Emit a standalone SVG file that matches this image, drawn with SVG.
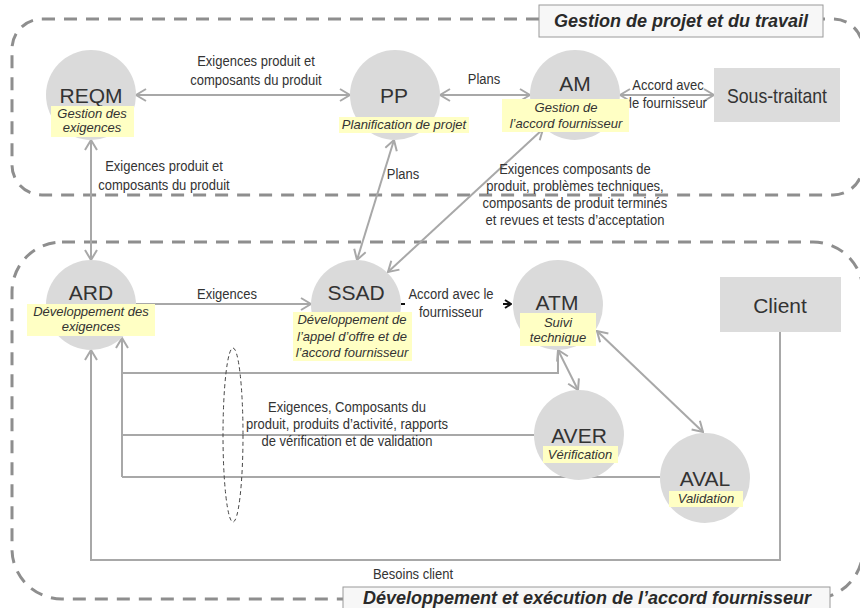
<svg xmlns="http://www.w3.org/2000/svg" width="860" height="608" viewBox="0 0 860 608">
<style>
.region{fill:none;stroke:#8e8e8e;stroke-width:3;stroke-dasharray:13 9}
.hdrbox{fill:#f7f7f7;stroke:#9a9a9a;stroke-width:1}
.hdr{font-family:"Liberation Sans",Arial,sans-serif;font-size:18px;font-weight:bold;font-style:italic;fill:#2a2a2a;text-anchor:middle}
.con{fill:none;stroke:#a8a8a8;stroke-width:2}
.lbl{font-family:"Liberation Sans",Arial,sans-serif;font-size:15px;fill:#333;text-anchor:middle}
.circ{fill:#dadada}
.box{fill:#dcdcdc}
.ttl{font-family:"Liberation Sans",Arial,sans-serif;font-size:21px;fill:#333;text-anchor:middle}
.note{fill:#ffffc4}
.sub{font-family:"Liberation Sans",Arial,sans-serif;font-size:13px;font-style:italic;fill:#333;text-anchor:middle}
</style>
<defs>
<marker id="ah" viewBox="0 0 12 14" refX="11" refY="7" markerWidth="12" markerHeight="14" markerUnits="userSpaceOnUse" orient="auto-start-reverse">
<path d="M1,1 L11,7 L1,13" fill="none" stroke="#a8a8a8" stroke-width="2"/>
</marker>
<marker id="ahb" viewBox="0 0 8 10" refX="7" refY="5" markerWidth="8" markerHeight="10" markerUnits="userSpaceOnUse" orient="auto">
<path d="M1,1 L7,5 L1,9" fill="none" stroke="#111" stroke-width="2"/>
</marker>
</defs>

<g id="regions">
<rect class="region" x="12" y="19" width="851" height="176" rx="30"/>
<rect class="region" x="12" y="242" width="851" height="357" rx="50"/>
</g>

<g id="connectors">
<path class="con" d="M136,95 H350" marker-start="url(#ah)" marker-end="url(#ah)"/>
<path class="con" d="M440,95 H530" marker-start="url(#ah)" marker-end="url(#ah)"/>
<path class="con" d="M620,95 H714" marker-start="url(#ah)" marker-end="url(#ah)"/>
<path class="con" d="M91,140 V260" marker-start="url(#ah)" marker-end="url(#ah)"/>
<path class="con" d="M394,140 L357,260" marker-start="url(#ah)" marker-end="url(#ah)"/>
<path class="con" d="M543,129 L388,272" marker-start="url(#ah)" marker-end="url(#ah)"/>
<path class="con" d="M136,304 H311" marker-end="url(#ah)"/>
<path d="M401,304 H511" fill="none" stroke="#111" stroke-width="2" stroke-dasharray="4 98 8 100" marker-end="url(#ahb)"/>
<path class="con" d="M558,350 L578,390" marker-start="url(#ah)" marker-end="url(#ah)"/>
<path class="con" d="M597,331 L703,432" marker-start="url(#ah)" marker-end="url(#ah)"/>
<path class="con" d="M558,350 V373 H122"/>
<path class="con" d="M534,435 H122"/>
<path class="con" d="M660,477 H122"/>
<path class="con" d="M122,477 V338" marker-end="url(#ah)"/>
<path class="con" d="M780,332 V560 H91 V350" marker-end="url(#ah)"/>
<ellipse cx="233" cy="435" rx="10" ry="87" fill="none" stroke="#444" stroke-width="1" stroke-dasharray="4 3"/>

<g transform="scale(0.8667 1)">
<text class="lbl" x="295.4" y="66">Exigences produit et</text>
<text class="lbl" x="295.4" y="85">composants du produit</text>
<text class="lbl" x="558.4" y="84">Plans</text>
<text class="lbl" x="770.7" y="90">Accord avec</text>
<text class="lbl" x="770.7" y="108">le fournisseur</text>
<text class="lbl" x="189.2" y="171">Exigences produit et</text>
<text class="lbl" x="189.2" y="190">composants du produit</text>
<text class="lbl" x="465" y="179">Plans</text>
<text class="lbl" x="663.4" y="174">Exigences composants de</text>
<text class="lbl" x="663.4" y="191">produit, problèmes techniques,</text>
<text class="lbl" x="663.4" y="208">composants de produit terminés</text>
<text class="lbl" x="663.4" y="225">et revues et tests d’acceptation</text>
<text class="lbl" x="261.9" y="299">Exigences</text>
<text class="lbl" x="520.4" y="299">Accord avec le</text>
<text class="lbl" x="520.4" y="317">fournisseur</text>
<text class="lbl" x="400.4" y="412">Exigences, Composants du</text>
<text class="lbl" x="400.4" y="429">produit, produits d’activité, rapports</text>
<text class="lbl" x="400.4" y="446">de vérification et de validation</text>
<text class="lbl" x="476.5" y="579">Besoins client</text>
</g>
</g>

<g id="REQM">
<circle class="circ" cx="91" cy="95" r="45"/>
<text class="ttl" x="91" y="103">REQM</text>
<rect class="note" x="51" y="106" width="83" height="31"/>
<text class="sub" x="92" y="118">Gestion des</text>
<text class="sub" x="92" y="132">exigences</text>
</g>

<g id="PP">
<circle class="circ" cx="395" cy="95" r="45"/>
<text class="ttl" x="394" y="103">PP</text>
<rect class="note" x="339" y="117" width="130" height="16"/>
<text class="sub" x="404" y="129">Planification de projet</text>
</g>

<g id="AM">
<circle class="circ" cx="575" cy="95" r="45"/>
<text class="ttl" x="575" y="91">AM</text>
<rect class="note" x="502" y="99" width="127" height="33"/>
<text class="sub" x="566" y="112">Gestion de</text>
<text class="sub" x="566" y="128">l’accord fournisseur</text>
</g>

<g id="SousTraitant">
<rect class="box" x="714" y="68" width="126" height="54"/>
<text class="ttl" x="777" y="103" textLength="100" lengthAdjust="spacingAndGlyphs">Sous-traitant</text>
</g>

<g id="ARD">
<circle class="circ" cx="91" cy="305" r="45"/>
<text class="ttl" x="91" y="300">ARD</text>
<rect class="note" x="27" y="304" width="128" height="32"/>
<text class="sub" x="91" y="316">Développement des</text>
<text class="sub" x="91" y="331">exigences</text>
</g>

<g id="SSAD">
<circle class="circ" cx="356" cy="305" r="45"/>
<text class="ttl" x="356" y="300">SSAD</text>
<rect class="note" x="293" y="312" width="119" height="49"/>
<text class="sub" x="352" y="324">Développement de</text>
<text class="sub" x="352" y="341">l’appel d’offre et de</text>
<text class="sub" x="352" y="357">l’accord fournisseur</text>
</g>

<g id="ATM">
<circle class="circ" cx="558" cy="305" r="45"/>
<text class="ttl" x="557" y="310">ATM</text>
<rect class="note" x="520" y="313" width="76" height="33"/>
<text class="sub" x="558" y="327">Suivi</text>
<text class="sub" x="558" y="342">technique</text>
</g>

<g id="Client">
<rect class="box" x="720" y="277" width="121" height="55"/>
<text class="ttl" x="780" y="313">Client</text>
</g>

<g id="AVER">
<circle class="circ" cx="579" cy="435" r="45"/>
<text class="ttl" x="579" y="443">AVER</text>
<rect class="note" x="543" y="446" width="75" height="17"/>
<text class="sub" x="580" y="459">Vérification</text>
</g>

<g id="AVAL">
<circle class="circ" cx="705" cy="478" r="45"/>
<text class="ttl" x="705" y="486">AVAL</text>
<rect class="note" x="669" y="491" width="74" height="16"/>
<text class="sub" x="706" y="503">Validation</text>
</g>

<g id="titles">
<rect class="hdrbox" x="539" y="5" width="284" height="32"/>
<text class="hdr" x="681" y="27">Gestion de projet et du travail</text>
<rect class="hdrbox" x="343" y="587" width="487" height="30"/>
<text class="hdr" x="587" y="604">Développement et exécution de l’accord fournisseur</text>
</g>
</svg>
